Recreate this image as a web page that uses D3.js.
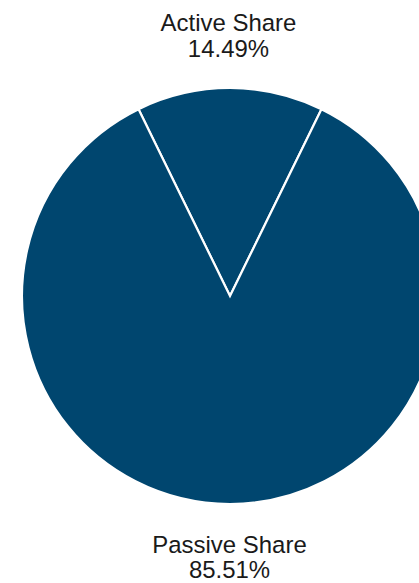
<!DOCTYPE html>
<html>
<head>
<meta charset="utf-8">
<script src="https://cdn.jsdelivr.net/npm/d3@7"></script>
<style>
  html, body { margin: 0; padding: 0; background: #ffffff; }
  svg { display: block; }
  text { font-family: "Liberation Sans", Arial, sans-serif; fill: #1a1a1a; }
</style>
</head>
<body>
<svg id="chart" width="419" height="583"></svg>
<script>
// Share split
const categories = ["Active Share", "Passive Share"];
const shareValues = [14.49, 85.51];

const width = 419, height = 583;
const cx = 230, cy = 296, radius = 208;
const sliceColor = "#00466F";

const svg = d3.select("#chart");

// Start so the first slice is centred on 12 o'clock
const total = d3.sum(shareValues);
const firstSpan = shareValues[0] / total * 2 * Math.PI;

const pie = d3.pie()
  .sort(null)
  .value(d => d.value)
  .startAngle(-firstSpan / 2)
  .endAngle(2 * Math.PI - firstSpan / 2);

const data = categories.map((c, i) => ({ name: c, value: shareValues[i] }));
const arcs = pie(data);

const arc = d3.arc().innerRadius(0).outerRadius(radius);

const g = svg.append("g").attr("transform", `translate(${cx},${cy})`);

g.selectAll("path")
  .data(arcs)
  .join("path")
  .attr("d", arc)
  .attr("fill", sliceColor)
  .attr("stroke", "#ffffff")
  .attr("stroke-width", 2.2)
  .attr("stroke-linejoin", "miter");

// Labels: above the pie for the top slice, below for the other
const labelPos = [
  { x: 228.5, y1: 31, y2: 57 },
  { x: 229.5, y1: 553, y2: 578 }
];

const fmt = d3.format(".2f");
data.forEach((d, i) => {
  const p = labelPos[i];
  const t = svg.append("text")
    .attr("text-anchor", "middle")
    .attr("font-size", 23.5)
    .attr("transform", `translate(${p.x},0) scale(1.02,1) translate(${-p.x},0)`);
  t.append("tspan").attr("x", p.x).attr("y", p.y1).text(d.name);
  t.append("tspan").attr("x", p.x).attr("y", p.y2).text(fmt(d.value) + "%");
});
</script>
</body>
</html>
